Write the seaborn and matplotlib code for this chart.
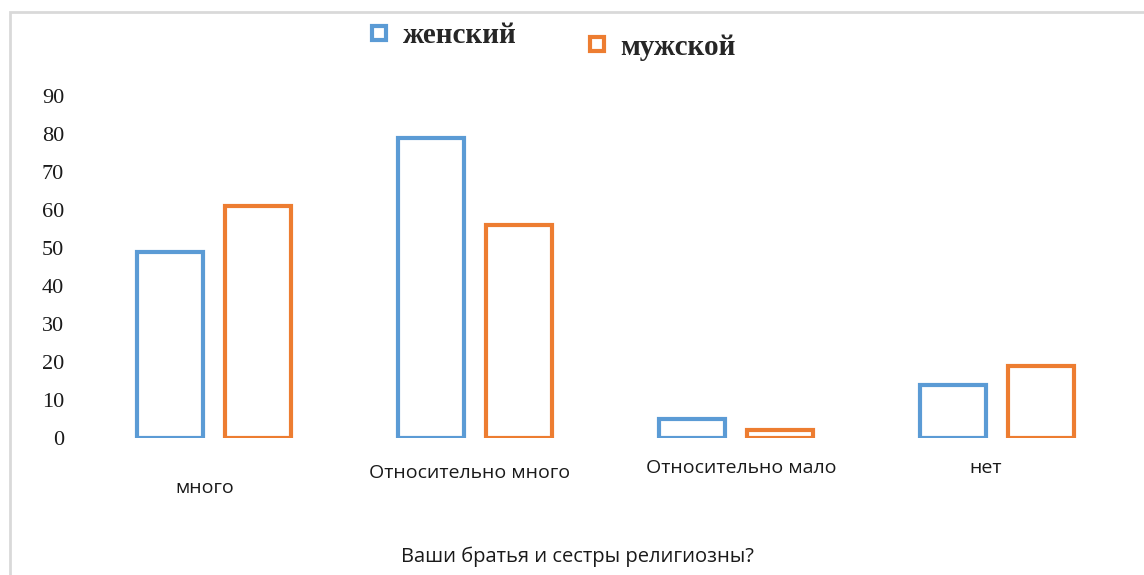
import pandas as pd
import matplotlib.pyplot as plt
import matplotlib.transforms as mtransforms
from matplotlib.lines import Line2D
from matplotlib.patches import Rectangle
import seaborn as sns

categories = ["много", "Относительно много", "Относительно мало", "нет"]
female = [49, 79, 5, 14]
male = [61, 56, 2, 19]
series_names = ["женский", "мужской"]
y_ticks = [0, 10, 20, 30, 40, 50, 60, 70, 80, 90]
x_title = "Ваши братья и сестры религиозны?"

colors = {"женский": "#5B9BD5", "мужской": "#ED7D31"}

df = pd.DataFrame({
    "cat": categories * 2,
    "val": female + male,
    "sex": [series_names[0]] * len(categories) + [series_names[1]] * len(categories),
})

sns.set_style("white")
plt.rcParams["font.family"] = ["Open Sans", "DejaVu Sans"]

fig = plt.figure(figsize=(11.44, 5.75), dpi=100)
ax = fig.add_axes([0.073, 0.2383, 0.9127, 0.5947])

sns.barplot(data=df, x="cat", y="val", hue="sex", palette=colors,
            fill=False, linewidth=3, width=0.674, gap=0.25,
            errorbar=None, legend=False, ax=ax)

ax.set_xlim(-0.5, 3.5)
ax.set_ylim(0, 90)
ax.set_yticks(y_ticks)
ax.set_yticklabels([str(t) for t in y_ticks], family="Liberation Serif",
                   fontsize=16, color="#1a1a1a")
ax.tick_params(axis="y", length=0, pad=14)
ax.tick_params(axis="x", length=0, pad=15)
ax.set_xticks(range(len(categories)))
ax.set_xticklabels(categories, fontsize=14, color="#1a1a1a")
ax.set_xlabel("")
ax.set_ylabel("")
for s in ax.spines.values():
    s.set_visible(False)

# individual label offsets as in the original
offsets = [(-9, -20), (-5, -5), (5, 0), (-11, 0)]
for lab, (dx, dy) in zip(ax.get_xticklabels(), offsets):
    lab.set_transform(lab.get_transform() +
                      mtransforms.ScaledTranslation(dx / 100, dy / 100, fig.dpi_scale_trans))

fig.text(577 / 1144, 1 - 557 / 575, x_title, ha="center", va="center",
         fontsize=14.5, color="#1a1a1a")

# legend, two staggered entries
for name, xy in zip(series_names, [(0.296, 0.938), (0.486, 0.918)]):
    h = Line2D([], [], marker="s", linestyle="none", markersize=10,
               markerfacecolor="white", markeredgecolor=colors[name],
               markeredgewidth=3)
    fig.legend([h], [name], loc="center left", bbox_to_anchor=xy,
               frameon=False, handletextpad=0.3, handlelength=1,
               prop={"family": "Liberation Serif", "weight": "bold", "size": 21})

# light frame of the picture
fig.add_artist(Rectangle((10 / 1144, -0.1), 1.2, 1 - 12 / 575 + 0.1,
                         transform=fig.transFigure, fill=False,
                         edgecolor="#d9d9d9", linewidth=2))

fig.savefig("out.png", dpi=100)
